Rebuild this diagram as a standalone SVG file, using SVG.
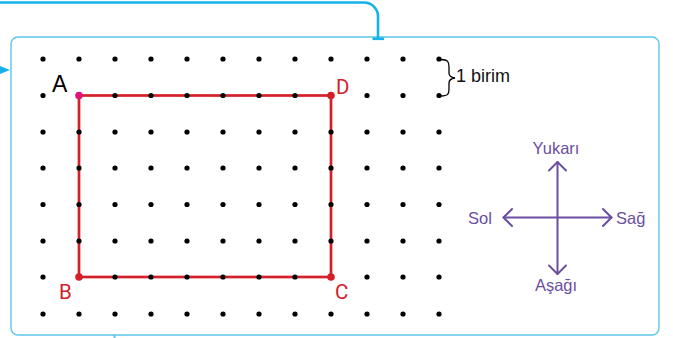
<svg xmlns="http://www.w3.org/2000/svg" width="673" height="338" viewBox="0 0 673 338">
<style>
.frame{fill:#fff;stroke:#5cc6ec;stroke-width:1.4}
.conn{fill:none;stroke:#15b2ea;stroke-width:2.6}
.dot{fill:#000}
.rect{fill:none;stroke:#d3202a;stroke-width:2.7}
.lbl{font-family:Roboto,"Liberation Sans",sans-serif;font-size:20.5px;fill:#d3202a}
.txt{font-family:"Liberation Sans",Arial,sans-serif}
.dir{font-family:"Liberation Sans",Arial,sans-serif;font-size:16.5px;fill:#6a4ea0}
.arr{fill:none;stroke:#6a4ea0;stroke-width:2;stroke-linecap:round;stroke-linejoin:round}
</style>
<defs>
<circle id="d" r="2.6" class="dot"/>
<g id="row">
<use href="#d" x="43"/><use href="#d" x="79"/><use href="#d" x="115"/><use href="#d" x="151"/><use href="#d" x="187"/><use href="#d" x="223"/><use href="#d" x="259"/><use href="#d" x="295"/><use href="#d" x="331"/><use href="#d" x="367"/><use href="#d" x="403"/><use href="#d" x="439"/>
</g>
</defs>
<g id="frame">
<rect class="frame" x="11" y="37" width="648" height="298" rx="7"/>
</g>
<g id="connectors">
<path class="conn" d="M0,2.5 H364 A14,14 0 0 1 378,16.5 V38.5"/>
<line class="conn" x1="372.5" y1="38.8" x2="384" y2="38.8"/>
<polygon points="0,66 10,70 0,74" fill="#15b2ea"/>
<line x1="114.5" y1="335" x2="114.5" y2="338" stroke="#5cc6ec" stroke-width="2"/>
</g>
<g id="rectangle">
<rect class="rect" x="79" y="95.5" width="252" height="181.5"/>
</g>
<g id="grid">
<use href="#row" y="59"/>
<use href="#row" y="95.5"/>
<use href="#row" y="132"/>
<use href="#row" y="168"/>
<use href="#row" y="204.5"/>
<use href="#row" y="241"/>
<use href="#row" y="277"/>
<use href="#row" y="314"/>
</g>
<g id="vertices">
<circle cx="79" cy="95.5" r="3.8" fill="#e2147c"/>
<circle cx="331" cy="95.5" r="3.8" fill="#d3202a"/>
<circle cx="79" cy="277" r="3.8" fill="#d3202a"/>
<circle cx="331" cy="277" r="3.8" fill="#d3202a"/>
<text class="txt" x="52" y="92" font-size="23" fill="#000">A</text>
<text class="lbl" x="336" y="93.5">D</text>
<text class="lbl" x="59" y="298.5">B</text>
<text class="lbl" x="335" y="299">C</text>
</g>
<g id="unit">
<path d="M441,59.5 C448,59.5 449,62 449,67 V73 C449,76 451,77.5 455,78 C451,78.5 449,80 449,83 V89 C449,94 448,96 441,96" fill="none" stroke="#000" stroke-width="1.3"/>
<text class="txt" x="456" y="82" font-size="18" fill="#111">1 birim</text>
</g>
<g id="compass">
<line class="arr" x1="557.5" y1="162" x2="557.5" y2="274"/>
<line class="arr" x1="503.5" y1="217.5" x2="611.5" y2="217.5"/>
<polyline class="arr" points="549,170.5 557.5,162 566,170.5"/>
<polyline class="arr" points="549,265.5 557.5,274 566,265.5"/>
<polyline class="arr" points="512,209 503.5,217.5 512,226"/>
<polyline class="arr" points="603,209 611.5,217.5 603,226"/>
<text class="dir" x="556" y="153.5" text-anchor="middle">Yukarı</text>
<text class="dir" x="468" y="223.5">Sol</text>
<text class="dir" x="616" y="223.5">Sağ</text>
<text class="dir" x="556" y="291" text-anchor="middle">Aşağı</text>
</g>
</svg>
